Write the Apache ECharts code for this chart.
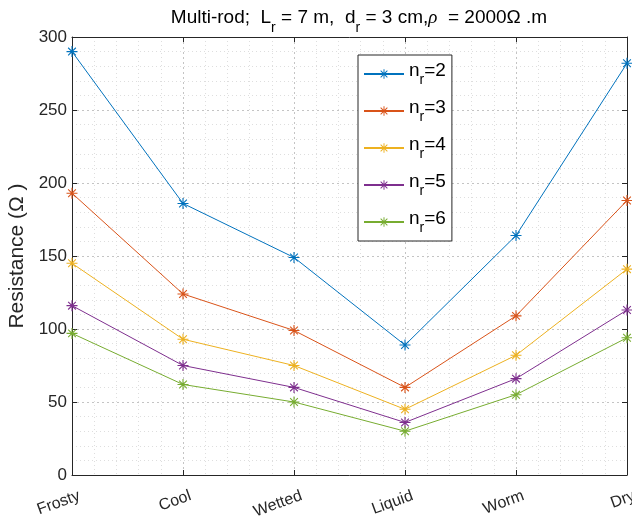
<!DOCTYPE html>
<html>
<head>
<meta charset="utf-8">
<script src="https://cdn.jsdelivr.net/npm/echarts@6/dist/echarts.min.js"></script>
<style>html,body{margin:0;padding:0;background:#fff;}#c{width:632px;height:519px;}</style>
</head>
<body>
<div id="c"></div>
<script>
var categories = ['Frosty', 'Cool', 'Wetted', 'Liquid', 'Worm', 'Dry'];
var n2 = [290, 186, 149, 89, 164, 282];
var n3 = [193, 124, 99, 60, 109, 188];
var n4 = [145, 93, 75, 45, 82, 141];
var n5 = [116, 75, 60, 36, 66, 113];
var n6 = [97, 62, 50, 30, 55, 94];
var seriesNames = ['2', '3', '4', '5', '6'];
var yTicks = [0, 50, 100, 150, 200, 250, 300];

var colors = ['#0072BD', '#D95319', '#EDB120', '#7E2F8E', '#77AC30'];
var star = 'path://M0,9L20,9L20,11L0,11Z M9,0L11,0L11,20L9,20Z M3.7,2.3L17.7,16.3L16.3,17.7L2.3,3.7Z M16.3,2.3L17.7,3.7L3.7,17.7L2.3,16.3Z';
var txt = '#262626';
var font = 'Liberation Sans, Arial, sans-serif';
var dataSets = [n2, n3, n4, n5, n6];

var chart = echarts.init(document.getElementById('c'), null, {renderer: 'canvas'});
var series = dataSets.map(function (d, i) {
  return {
    name: 'n_r=' + seriesNames[i],
    type: 'line',
    xAxisIndex: 0,
    yAxisIndex: 0,
    data: d,
    symbol: star,
    symbolSize: 11,
    showSymbol: true,
    lineStyle: {width: 1, color: colors[i]},
    itemStyle: {color: colors[i]},
    emphasis: {disabled: true},
    animation: false
  };
});

var option = {
  animation: false,
  textStyle: {fontFamily: font},
  title: {
    text: '{a|Multi-rod;  L}{s|r}{a| = 7 m,  d}{s|r}{a| = 3 cm,}{i|ρ}{a|  = 2000Ω .m}',
    left: 354,
    textAlign: 'center',
    top: 3,
    textStyle: {
      fontWeight: 'normal',
      rich: {
        a: {fontSize: 19, color: '#000', fontWeight: 'normal', lineHeight: 27, verticalAlign: 'top', fontFamily: font},
        s: {fontSize: 14, color: '#000', fontWeight: 'normal', lineHeight: 27, verticalAlign: 'bottom', fontFamily: font},
        i: {fontSize: 19, color: '#000', fontWeight: 'normal', lineHeight: 27, verticalAlign: 'top', fontStyle: 'italic', fontFamily: 'Liberation Serif, serif'}
      }
    }
  },
  grid: {left: 72, right: 5, top: 37, bottom: 44, containLabel: false, outerBoundsMode: 'none'},
  legend: {
    left: 358,
    top: 55,
    orient: 'vertical',
    backgroundColor: '#fff',
    borderColor: '#262626',
    borderWidth: 1,
    padding: [6, 6, 6, 5],
    itemGap: 11,
    itemWidth: 40,
    itemHeight: 12,
    data: series.map(function (s) { return s.name; }),
    formatter: function (name) {
      var n = name.split('=')[1];
      return '{n|n}{s|r}{n|=' + n + '}';
    },
    textStyle: {
      rich: {
        n: {fontSize: 19, color: '#000', lineHeight: 26, verticalAlign: 'top', fontFamily: font},
        s: {fontSize: 14, color: '#000', lineHeight: 26, verticalAlign: 'bottom', fontFamily: font}
      }
    }
  },
  xAxis: [{
    type: 'category',
    data: categories,
    boundaryGap: false,
    position: 'bottom',
    axisLine: {show: true, lineStyle: {color: txt, width: 1}},
    axisTick: {show: true, inside: true, length: 5, lineStyle: {color: txt}},
    axisLabel: {rotate: 20, fontSize: 16, color: txt, margin: 23, padding: [0, -8, 0, 0], hideOverlap: false, showMaxLabel: true, showMinLabel: true},
    splitLine: {show: true, lineStyle: {color: '#c4c4c4', type: [2, 3], width: 1}}
  }, {
    type: 'value',
    min: 0,
    max: 5,
    interval: 1,
    position: 'top',
    axisLine: {show: true, onZero: false, lineStyle: {color: txt, width: 1}},
    axisTick: {show: true, inside: true, length: 5, lineStyle: {color: txt}},
    axisLabel: {show: false},
    splitLine: {show: false},
    minorTick: {show: false, splitNumber: 5},
    minorSplitLine: {show: true, lineStyle: {color: '#dedede', type: [1, 3], width: 1}}
  }],
  yAxis: [{
    type: 'value',
    min: 0,
    max: 300,
    interval: 50,
    name: 'Resistance (Ω )',
    nameLocation: 'middle',
    nameGap: 39,
    nameTextStyle: {fontSize: 21, color: txt},
    axisLine: {show: true, lineStyle: {color: txt, width: 1}},
    axisTick: {show: true, inside: true, length: 5, lineStyle: {color: txt}},
    axisLabel: {fontSize: 17, color: txt, margin: 5, formatter: function (v) { return yTicks.indexOf(v) >= 0 ? String(v) : ''; }},
    splitLine: {show: true, lineStyle: {color: '#c4c4c4', type: [2, 3], width: 1}},
    minorTick: {show: false, splitNumber: 5},
    minorSplitLine: {show: true, lineStyle: {color: '#dedede', type: [1, 3], width: 1}}
  }, {
    type: 'value',
    min: 0,
    max: 300,
    interval: 50,
    position: 'right',
    axisLine: {show: true, onZero: false, lineStyle: {color: txt, width: 1}},
    axisTick: {show: true, inside: true, length: 5, lineStyle: {color: txt}},
    axisLabel: {show: false},
    splitLine: {show: false}
  }],
  series: series
};
chart.setOption(option);
</script>
</body>
</html>
